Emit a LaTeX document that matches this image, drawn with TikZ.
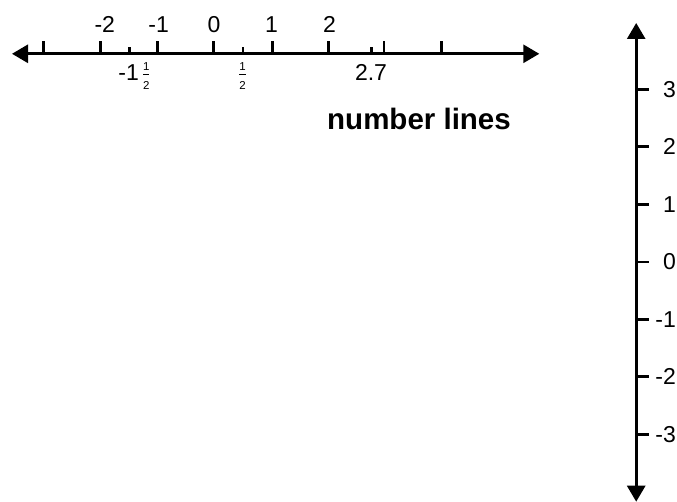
\documentclass[tikz,border=0pt]{standalone}
\usepackage{fontspec}
\setmainfont{Liberation Sans}
\usetikzlibrary{arrows.meta}
\newcommand{\halffrac}{$\frac{\mbox{\fontsize{11.5}{12}\selectfont 1}}{\mbox{\fontsize{11.5}{12}\selectfont 2}}$}
\begin{document}
\begin{tikzpicture}[x=1pt,y=-1pt,
  axisline/.style={line width=2.8pt,
    {Triangle[length=16pt,width=18pt]}-{Triangle[length=16pt,width=18pt]}},
  tickmark/.style={line width=2.8pt},
  lbl/.style={font=\fontsize{23}{26}\selectfont, inner sep=0pt},
  title/.style={font=\fontsize{29.5}{32}\selectfont\bfseries, inner sep=0pt}]
\useasboundingbox (0,0) rectangle (677,502);
% horizontal number line
\coordinate (hL) at (12,53.8);
\coordinate (hR) at (539.3,53.8);
\draw[axisline] (hL) -- (hR);
\foreach \x in {43.6,100.7,157.1,213.6,272.1,328.6,383.9,441.8}
  \draw[tickmark] (\x,53.8) -- (\x,40.7);
\foreach \x in {129.3,242.9,371.4}
  \draw[tickmark] (\x,53.8) -- (\x,47);
\node[lbl,anchor=base] (tm2) at (104.8,33) {-2};
\node[lbl,anchor=base] (tm1) at (158.6,33) {-1};
\node[lbl,anchor=base] (t0) at (214,33) {0};
\node[lbl,anchor=base] (t1) at (271.5,33) {1};
\node[lbl,anchor=base] (t2) at (329.6,33) {2};
\node[lbl,anchor=base] (bm15) at (134.5,80.5) {-1\hspace{3pt}\halffrac};
\node[lbl,anchor=base] (bh) at (242.5,80.5) {\halffrac};
\node[lbl,anchor=base] (b27) at (371,80.5) {2.7};
\node[title,anchor=base] (ttl) at (419,130) {number lines};
% vertical number line
\coordinate (vT) at (636.2,23);
\coordinate (vB) at (636.2,501.7);
\draw[axisline] (vB) -- (vT);
\foreach \y/\t in {89.5/3,146.9/2,204.3/1,262/0,319.5/-1,376.8/-2,434.2/-3}{
  \draw[tickmark] (636.2,\y) -- (649.3,\y);
  \node[lbl,anchor=east] (v\t) at (676,\y) {\t};
}
\end{tikzpicture}
\end{document}
